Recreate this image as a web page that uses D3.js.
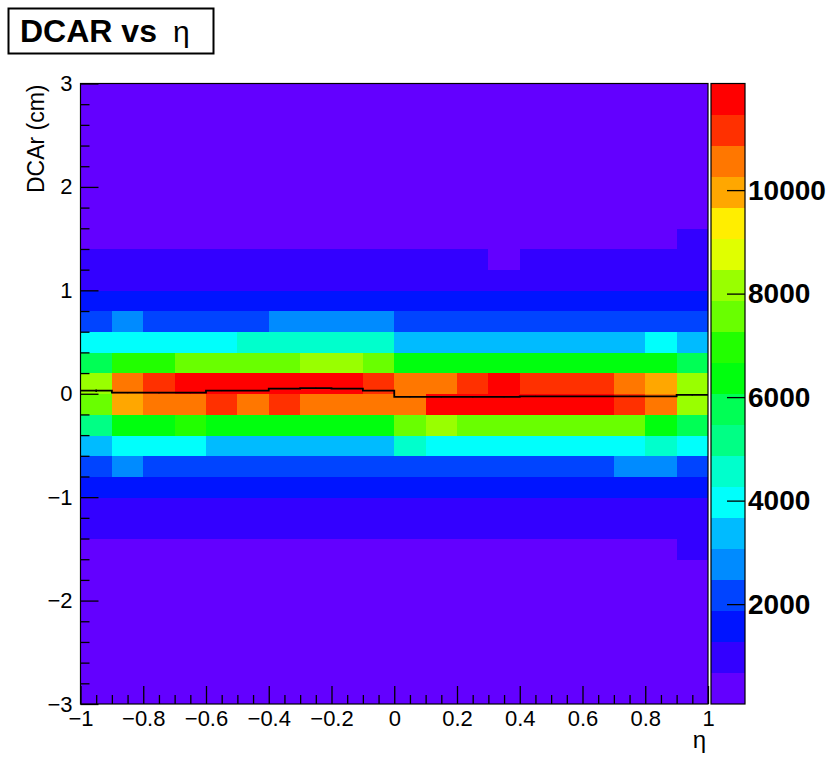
<!DOCTYPE html>
<html>
<head>
<meta charset="utf-8">
<script src="https://cdn.jsdelivr.net/npm/d3@7"></script>
<style>
  body { margin: 0; background: #fff; }
  svg { display: block; }
  text { font-family: "Liberation Sans", Arial, Helvetica, sans-serif; fill: #000; }
</style>
</head>
<body>
<svg id="chart" width="834" height="758"></svg>
<script>
// Lower edges of the eta bins (width 0.1) and DCAr bins (width 0.2, cm)
const etaLow = [-1, -0.9, -0.8, -0.7, -0.6, -0.5, -0.4, -0.3, -0.2, -0.1,
                0, 0.1, 0.2, 0.3, 0.4, 0.5, 0.6, 0.7, 0.8, 0.9];
const etaWidth = 0.1;
const dcaLow = [-3, -2.8, -2.6, -2.4, -2.2, -2, -1.8, -1.6, -1.4, -1.2,
                -1, -0.8, -0.6, -0.4, -0.2, 0, 0.2, 0.4, 0.6, 0.8,
                1, 1.2, 1.4, 1.6, 1.8, 2, 2.2, 2.4, 2.6, 2.8];
const dcaWidth = 0.2;

// Entries per (DCAr, eta) cell; one row per DCAr bin, from -3 cm upwards
const binCounts = [
  [ 72,  80,  85,  88,  90,  92,  94,  95,  95,  96,  96,  95,  94,  93,  92,  90,  88,  86,  82,  70], // -3.0
  [ 95, 104, 110, 114, 118, 120, 122, 124, 124, 125, 125, 124, 122, 121, 119, 117, 115, 111, 106,  97], // -2.8
  [122, 134, 142, 148, 152, 156, 158, 160, 161, 162, 162, 161, 159, 157, 154, 151, 148, 143, 137, 125], // -2.6
  [158, 172, 182, 190, 196, 200, 204, 206, 208, 209, 209, 207, 205, 202, 199, 195, 190, 184, 176, 162], // -2.4
  [204, 222, 236, 246, 253, 259, 263, 266, 268, 270, 270, 268, 265, 261, 257, 252, 246, 238, 228, 210], // -2.2
  [266, 288, 305, 318, 328, 335, 340, 344, 347, 349, 349, 347, 343, 338, 332, 326, 318, 308, 295, 272], // -2.0
  [345, 374, 396, 412, 425, 434, 441, 446, 450, 452, 452, 450, 445, 439, 431, 423, 413, 400, 383, 354], // -1.8
  [548, 590, 612, 626, 636, 642, 646, 648, 650, 651, 651, 650, 647, 643, 638, 631, 622, 610, 594, 688], // -1.6
  [820, 870, 900, 920, 935, 945, 952, 958, 962, 965, 965, 962, 957, 950, 942, 932, 920, 905, 885, 960], // -1.4
  [1080, 1130, 1160, 1180, 1195, 1205, 1212, 1218, 1222, 1225, 1225, 1222, 1217, 1210, 1202, 1192, 1180, 1165, 1145, 1190], // -1.2
  [1560, 1640, 1690, 1720, 1740, 1755, 1765, 1772, 1778, 1780, 1780, 1776, 1770, 1762, 1752, 1740, 1725, 1705, 1680, 1620], // -1.0
  [2350, 2520, 2440, 2400, 2380, 2390, 2410, 2420, 2430, 2440, 2380, 2370, 2380, 2400, 2420, 2440, 2460, 2510, 2530, 2380], // -0.8
  [3620, 3760, 3720, 3690, 3650, 3630, 3610, 3600, 3590, 3620, 4300, 4180, 4120, 4100, 4080, 4060, 4090, 4200, 4320, 4150], // -0.6
  [5300, 6500, 6600, 6700, 6550, 6450, 6400, 6380, 6420, 6500, 7500, 7900, 7700, 7600, 7550, 7500, 7420, 7300, 6600, 5900], // -0.4
  [7700, 10100, 10500, 10700, 10950, 10800, 10900, 10700, 10600, 10500, 10750, 11550, 11650, 11700, 11650, 11600, 11500, 11200, 10500, 8200], // -0.2
  [8300, 10600, 11200, 11700, 11800, 12060, 11900, 11850, 11600, 11300, 10800, 10850, 11300, 11500, 11400, 11250, 11100, 10600, 10000, 8100], // 0.0
  [5950, 6900, 7100, 7400, 7600, 7700, 7800, 7950, 7900, 7500, 6500, 6450, 6400, 6350, 6300, 6250, 6200, 6150, 6100, 5800], // 0.2
  [3950, 4100, 4150, 4200, 4250, 4300, 4400, 4500, 4450, 4350, 3600, 3550, 3500, 3480, 3470, 3460, 3500, 3600, 3700, 3400], // 0.4
  [2300, 2500, 2420, 2440, 2450, 2460, 2520, 2560, 2540, 2500, 2300, 2260, 2240, 2230, 2220, 2210, 2200, 2220, 2250, 2150], // 0.6
  [1580, 1650, 1700, 1730, 1750, 1765, 1780, 1790, 1795, 1800, 1760, 1740, 1730, 1720, 1710, 1700, 1690, 1680, 1670, 1600], // 0.8
  [1090, 1140, 1170, 1190, 1205, 1215, 1225, 1232, 1236, 1238, 1200, 1190, 1182, 1176, 1170, 1164, 1158, 1150, 1140, 1180], // 1.0
  [830, 875, 905, 925, 940, 950, 958, 964, 968, 970, 720, 700, 690, 660, 685, 690, 695, 700, 705, 880], // 1.2
  [550, 590, 612, 626, 636, 642, 646, 648, 650, 651, 600, 590, 582, 575, 570, 565, 560, 555, 550, 700], // 1.4
  [340, 372, 394, 410, 423, 432, 439, 444, 448, 450, 420, 413, 407, 402, 397, 392, 387, 381, 374, 380], // 1.6
  [262, 285, 302, 315, 325, 332, 337, 341, 344, 346, 326, 321, 316, 312, 308, 304, 300, 295, 289, 292], // 1.8
  [202, 220, 233, 243, 250, 256, 260, 263, 265, 267, 252, 248, 244, 241, 238, 235, 231, 227, 222, 224], // 2.0
  [156, 170, 180, 188, 194, 198, 202, 204, 206, 207, 195, 192, 189, 186, 184, 181, 178, 175, 171, 172], // 2.2
  [120, 132, 140, 146, 150, 154, 156, 158, 159, 160, 151, 149, 146, 144, 142, 140, 138, 135, 132, 133], // 2.4
  [ 93, 102, 108, 113, 116, 119, 121, 122, 123, 124, 117, 115, 113, 112, 110, 108, 107, 105, 102, 103], // 2.6
  [ 74,  80,  84,  88,  90,  92,  94,  95,  95,  96,  91,  90,  88,  87,  86,  84,  83,  81,  79,  78]  // 2.8
];

// Mean DCAr per eta bin (profile) and its error
const profileMean = [0.03, 0.01, 0.01, 0.01, 0.03, 0.03, 0.05, 0.055, 0.05, 0.03,
                     -0.03, -0.03, -0.03, -0.03, -0.025, -0.025, -0.025, -0.025, -0.025, -0.01];
const profileErr = [0.012, 0.004, 0.004, 0.004, 0.004, 0.004, 0.004, 0.004, 0.004, 0.004,
                    0.004, 0.004, 0.004, 0.004, 0.004, 0.004, 0.004, 0.004, 0.004, 0.006];

const xMajorTicks = [-1, -0.8, -0.6, -0.4, -0.2, 0, 0.2, 0.4, 0.6, 0.8, 1];
const yMajorTicks = [-3, -2, -1, 0, 1, 2, 3];
const zTicks = [2000, 4000, 6000, 8000, 10000];
const nLevels = 20;

// Rainbow palette: 50 HLS hues from violet to red, sampled for 20 contour levels
const paletteHue = i => 280 - (i + 1) * (280 / 50);
const levelColors = d3.range(nLevels).map(l => {
  const idx = Math.floor((l + 0.99) * 50 / nLevels);
  return idx >= 49 ? "#ff0000" : d3.hsl(paletteHue(idx), 1, 0.5).formatHex();
});

const svg = d3.select("#chart");
const plot = { left: 80.5, right: 708, top: 83.5, bottom: 704 };
const bar = { left: 711, right: 745 };

const x = d3.scaleLinear().domain([-1, 1]).range([plot.left, plot.right]);
const y = d3.scaleLinear().domain([-3, 3]).range([plot.bottom, plot.top]);

const [zMin, zMax] = d3.extent(binCounts.flat());
const color = d3.scaleQuantize().domain([zMin, zMax]).range(levelColors);
const z = d3.scaleLinear().domain([zMin, zMax]).range([plot.bottom, plot.top]);

// Cells
const cells = [];
binCounts.forEach((row, j) => row.forEach((v, i) => cells.push({ eta: etaLow[i], dca: dcaLow[j], v })));
svg.append("g").selectAll("rect").data(cells).join("rect")
  .attr("x", d => x(d.eta))
  .attr("y", d => y(d.dca + dcaWidth))
  .attr("width", d => x(d.eta + etaWidth) - x(d.eta) + 0.4)
  .attr("height", d => y(d.dca) - y(d.dca + dcaWidth) + 0.4)
  .attr("fill", d => color(d.v))
  .attr("shape-rendering", "crispEdges");

// Profile of the mean DCAr
const profPts = [];
profileMean.forEach((m, i) => { profPts.push([etaLow[i], m], [etaLow[i] + etaWidth, m]); });
const line = d3.line().x(d => x(d[0])).y(d => y(d[1]));
svg.append("path").datum(profPts).attr("d", line)
  .attr("fill", "none").attr("stroke", "#000").attr("stroke-width", 1.8);
svg.append("g").selectAll("line").data(profileMean).join("line")
  .attr("x1", (m, i) => x(etaLow[i] + etaWidth / 2))
  .attr("x2", (m, i) => x(etaLow[i] + etaWidth / 2))
  .attr("y1", (m, i) => y(m - profileErr[i]))
  .attr("y2", (m, i) => y(m + profileErr[i]))
  .attr("stroke", "#000").attr("stroke-width", 1.5);

// Frame
svg.append("rect")
  .attr("x", plot.left).attr("y", plot.top)
  .attr("width", plot.right - plot.left).attr("height", plot.bottom - plot.top)
  .attr("fill", "none").attr("stroke", "#000").attr("stroke-width", 1.2);

const fmt = d => d3.format("~g")(d);

// X axis (ticks drawn inside the frame)
const xMinor = d3.range(-20, 21).map(k => k * 0.05).filter(v => !xMajorTicks.some(t => Math.abs(t - v) < 1e-9));
const gx = svg.append("g").attr("transform", `translate(0,${plot.bottom})`)
  .call(d3.axisBottom(x).tickValues(xMajorTicks).tickFormat(fmt).tickSizeInner(-18).tickSizeOuter(0).tickPadding(6));
svg.append("g").attr("transform", `translate(0,${plot.bottom})`)
  .call(d3.axisBottom(x).tickValues(xMinor).tickFormat("").tickSizeInner(-9).tickSizeOuter(0));

// Y axis
const yMinor = d3.range(-15, 16).map(k => k * 0.2).filter(v => !yMajorTicks.some(t => Math.abs(t - v) < 1e-9));
const gy = svg.append("g").attr("transform", `translate(${plot.left},0)`)
  .call(d3.axisLeft(y).tickValues(yMajorTicks).tickFormat(fmt).tickSizeInner(-18).tickSizeOuter(0).tickPadding(8));
svg.append("g").attr("transform", `translate(${plot.left},0)`)
  .call(d3.axisLeft(y).tickValues(yMinor).tickFormat("").tickSizeInner(-9).tickSizeOuter(0));

svg.selectAll(".domain").remove();
svg.selectAll(".tick line").attr("stroke", "#000").attr("stroke-width", 1.3);
gx.selectAll("text").attr("font-size", 22).attr("font-family", "Liberation Sans, Arial, sans-serif");
gy.selectAll("text").attr("font-size", 22).attr("font-family", "Liberation Sans, Arial, sans-serif");

// Colour bar
const levelEdges = d3.range(nLevels + 1).map(l => zMin + l * (zMax - zMin) / nLevels);
svg.append("g").selectAll("rect").data(levelColors).join("rect")
  .attr("x", bar.left)
  .attr("y", (c, l) => z(levelEdges[l + 1]))
  .attr("width", bar.right - bar.left)
  .attr("height", (c, l) => z(levelEdges[l]) - z(levelEdges[l + 1]) + 0.4)
  .attr("fill", c => c)
  .attr("shape-rendering", "crispEdges");
svg.append("rect")
  .attr("x", bar.left).attr("y", plot.top)
  .attr("width", bar.right - bar.left).attr("height", plot.bottom - plot.top)
  .attr("fill", "none").attr("stroke", "#000").attr("stroke-width", 1.2);
const gz = svg.append("g").attr("transform", `translate(${bar.right},0)`)
  .call(d3.axisRight(z).tickValues(zTicks).tickFormat(d3.format("d")).tickSizeInner(-18).tickSizeOuter(0).tickPadding(3));
gz.select(".domain").remove();
gz.selectAll(".tick line").attr("stroke", "#000").attr("stroke-width", 1.3);
gz.selectAll("text").attr("font-size", 28).attr("font-weight", "bold")
  .attr("font-family", "Liberation Sans, Arial, sans-serif");

// Axis titles
svg.append("text")
  .attr("transform", `translate(44,${plot.top + 1}) rotate(-90)`)
  .attr("text-anchor", "end").attr("font-size", 23)
  .text("DCAr (cm)");
svg.append("text")
  .attr("x", plot.right - 2).attr("y", 748)
  .attr("text-anchor", "end").attr("font-size", 24)
  .text("η");

// Title box
svg.append("rect").attr("x", 8.5).attr("y", 8.5).attr("width", 205).attr("height", 45)
  .attr("fill", "#fff").attr("stroke", "#000").attr("stroke-width", 2);
const title = svg.append("text").attr("x", 20).attr("y", 42).attr("font-size", 32);
title.append("tspan").attr("font-weight", "bold").text("DCAR vs");
title.append("tspan").attr("dx", 16).attr("font-size", 30).text("η");
</script>
</body>
</html>
